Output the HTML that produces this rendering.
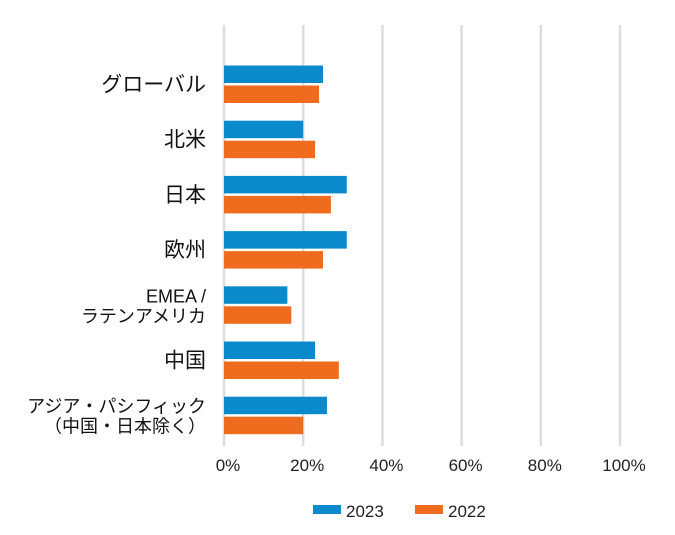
<!DOCTYPE html>
<html><head><meta charset="utf-8"><style>
body{margin:0;background:#fff;}
svg{display:block;font-family:"Liberation Sans","Noto Sans CJK JP",sans-serif;}
</style></head><body>
<svg id="c" width="675" height="535"></svg>
<script>
const categories=[["グローバル"],["北米"],["日本"],["欧州"],["EMEA /","ラテンアメリカ"],["中国"],["アジア・パシフィック","（中国・日本除く）"]];
const series2023=[25,20,31,31,16,23,26];
const series2022=[24,23,27,25,17,29,20];
const ticks=[0,20,40,60,80,100];
const NS="http://www.w3.org/2000/svg";
const svg=document.getElementById('c');
const x0=224,xw=396;
function xs(v){return x0+v/100*xw;}
function ys(i){return 65.5+i*55.2;}
function mk(t,a,p){const e=document.createElementNS(NS,t);for(const k in a)e.setAttribute(k,a[k]);(p||svg).appendChild(e);return e;}
ticks.forEach((t,i)=>{
 const l=mk('line',{x1:xs(t),x2:xs(t),y1:25,y2:446,stroke:'#dcdce2','stroke-width':2.5});
 
 
 const tx=mk('text',{x:xs(t)+4,y:471,'text-anchor':'middle','font-size':17,fill:'#222'});
 tx.textContent=t+'%';
 
 
});
categories.forEach((c,i)=>{
 const y=ys(i);
 const b1=mk('rect',{x:x0,y:y,width:xs(series2023[i])-x0,height:17.5,fill:'#0a8acb'});
 
 
 const b2=mk('rect',{x:x0,y:y+20,width:xs(series2022[i])-x0,height:17.5,fill:'#ef6c1f'});
 
 
 const cy=y+19;
 c.forEach((s,j)=>{
  const t=mk('text',{x:206,y:(c.length==1?cy+7:cy-3+j*20),'text-anchor':'end','font-size':c.length==1?21:18,fill:'#111'});
  t.textContent=s;
  
  
 });
});
const lg=[['#0a8acb','2023',313],['#ef6c1f','2022',415]];
lg.forEach(l=>{
 const r=mk('rect',{x:l[2],y:505,width:28,height:9,fill:l[0]});
 
 
 const t=mk('text',{x:l[2]+33,y:517,'font-size':17,fill:'#222'});
 t.textContent=l[1];
 
 
});
</script>
</body></html>
